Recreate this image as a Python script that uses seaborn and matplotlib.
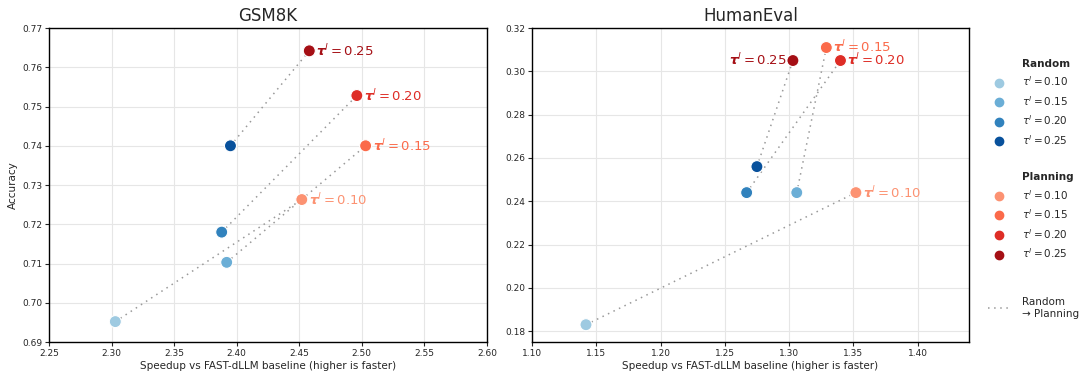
import numpy as np
import pandas as pd
import matplotlib
matplotlib.use("Agg")
import matplotlib.pyplot as plt
import seaborn as sns
from matplotlib.lines import Line2D

taus = ["0.10", "0.15", "0.20", "0.25"]

gsm_rand_x = [2.303, 2.392, 2.388, 2.395]
gsm_rand_y = [0.6952, 0.7103, 0.7180, 0.7400]
gsm_plan_x = [2.452, 2.503, 2.496, 2.458]
gsm_plan_y = [0.7263, 0.7400, 0.7528, 0.7642]

he_rand_x = [1.142, 1.306, 1.267, 1.275]
he_rand_y = [0.183, 0.244, 0.244, 0.256]
he_plan_x = [1.352, 1.329, 1.340, 1.303]
he_plan_y = [0.244, 0.311, 0.305, 0.305]

blues = ["#9ecae1", "#6baed6", "#3182bd", "#08519c"]
reds = ["#fc9272", "#fb6a4a", "#de2d26", "#a50f15"]

sns.set_style("whitegrid")
plt.rcParams.update({
    "axes.edgecolor": "black",
    "axes.linewidth": 1.0,
    "grid.color": "#e6e6e6",
    "grid.linewidth": 0.8,
    "font.family": ["DejaVu Sans"],
})

fig = plt.figure(figsize=(10.85, 3.76), dpi=100)
ax1 = fig.add_axes([49 / 1085, 0.0904, 438 / 1085, 0.835])
ax2 = fig.add_axes([532 / 1085, 0.0904, 437 / 1085, 0.835])


def panel(ax, title, rx, ry, px, py, xlim, ylim, xticks, yticks, left_labels, ylabel):
    df = pd.DataFrame({
        "x": rx + px,
        "y": ry + py,
        "key": [f"R{t}" for t in taus] + [f"P{t}" for t in taus],
    })
    pal = {f"R{t}": c for t, c in zip(taus, blues)}
    pal.update({f"P{t}": c for t, c in zip(taus, reds)})
    for i in range(4):
        ax.plot([rx[i], px[i]], [ry[i], py[i]], linestyle=(0, (1, 3)),
                color="#999999", linewidth=1.1, zorder=1)
    sns.scatterplot(data=df, x="x", y="y", hue="key", palette=pal, s=75,
                    edgecolor="white", linewidth=0.8, ax=ax, legend=False, zorder=3)
    for i, t in enumerate(taus):
        lab = r"$\boldsymbol{\tau}^l = " + t + r"$"
        if t in left_labels:
            ax.annotate(lab, (px[i], py[i]), xytext=(-5, 0), textcoords="offset points",
                        ha="right", va="center", color=reds[i], fontsize=9.5)
        else:
            ax.annotate(lab, (px[i], py[i]), xytext=(5, 0), textcoords="offset points",
                        ha="left", va="center", color=reds[i], fontsize=9.5)
    ax.set_xlim(*xlim)
    ax.set_ylim(*ylim)
    ax.set_xticks(xticks)
    ax.set_yticks(yticks)
    ax.set_xticklabels([f"{v:.2f}" for v in xticks])
    ax.set_yticklabels([f"{v:.2f}" for v in yticks])
    ax.tick_params(labelsize=6.5, length=3, width=0.8, direction="out", pad=2, left=True, bottom=True)
    ax.set_title(title, fontsize=12, pad=5)
    ax.set_xlabel("Speedup vs FAST-dLLM baseline (higher is faster)", fontsize=7.5, labelpad=2)
    ax.set_ylabel(ylabel, fontsize=7.5, labelpad=3)
    for sp in ax.spines.values():
        sp.set_color("black")


panel(ax1, "GSM8K", gsm_rand_x, gsm_rand_y, gsm_plan_x, gsm_plan_y,
      (2.25, 2.60), (0.69, 0.77), np.arange(2.25, 2.601, 0.05), np.arange(0.69, 0.7701, 0.01),
      [], "Accuracy")
panel(ax2, "HumanEval", he_rand_x, he_rand_y, he_plan_x, he_plan_y,
      (1.10, 1.44), (0.175, 0.32), np.arange(1.10, 1.401, 0.05), np.arange(0.18, 0.3201, 0.02),
      ["0.25"], "")

SEP1 = r"$\tau^l$"
SEP2 = r"$\tau^l$" + "\n "
handles, labels = [], []
blank = Line2D([], [], linestyle="none", marker=None)
handles.append(blank); labels.append("Random")
for t, c in zip(taus, blues):
    handles.append(Line2D([], [], linestyle="none", marker="o", markersize=6, color=c))
    labels.append(r"$\tau^l = " + t + r"$")
handles.append(blank); labels.append(SEP1)
handles.append(blank); labels.append("Planning")
for t, c in zip(taus, reds):
    handles.append(Line2D([], [], linestyle="none", marker="o", markersize=6, color=c))
    labels.append(r"$\tau^l = " + t + r"$")
handles.append(blank); labels.append(SEP2)
handles.append(Line2D([], [], linestyle=(0, (1, 3)), color="#999999", linewidth=1.1))
labels.append("Random\n→ Planning")

leg = fig.legend(handles, labels, loc="upper left", bbox_to_anchor=(0.907, 0.855),
                 frameon=False, fontsize=7.5, handlelength=2.0, labelspacing=0.55,
                 handletextpad=1.2, borderaxespad=0)
for txt in leg.get_texts():
    if txt.get_text() in ("Random", "Planning"):
        txt.set_fontweight("bold")
    if txt.get_text() in (SEP1, SEP2):
        txt.set_color("none")

fig.savefig("out.png", dpi=100)
